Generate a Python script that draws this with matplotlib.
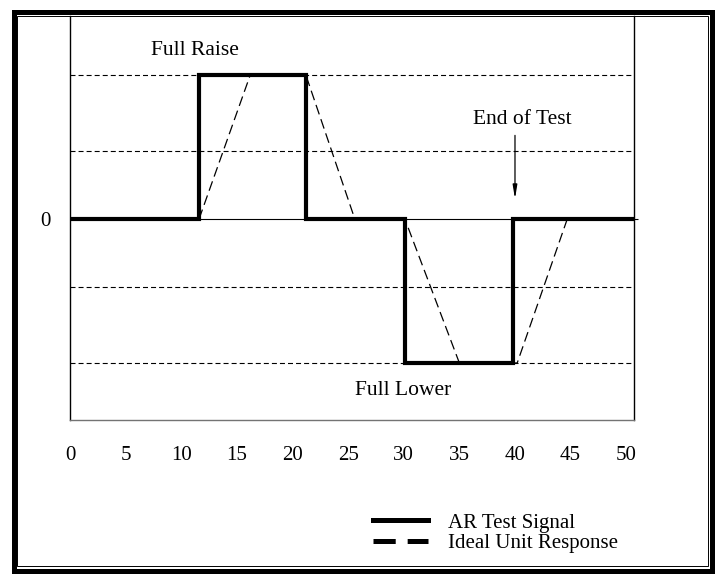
import matplotlib
matplotlib.use("Agg")
import matplotlib.pyplot as plt
from matplotlib.lines import Line2D
from matplotlib.patches import Rectangle

plt.rcParams['font.family'] = ['Liberation Serif', 'DejaVu Serif']
plt.rcParams['lines.scale_dashes'] = False

# step test signal (time, level)
signal_t = [0, 11.6, 11.6, 21.2, 21.2, 30.1, 30.1, 39.8, 39.8, 50.5]
signal_v = [0, 0, 1, 1, 0, 0, -1, -1, 0, 0]

# ideal ramped unit response
resp_t = [11.6, 16.2, 21.2, 25.6, 30.1, 35.0, 40.2, 44.7]
resp_v = [0, 1, 1, 0, 0, -1, -1, 0]

grid_levels = [1, 0.47, -0.47, -1]
xtick_vals = [0, 5, 10, 15, 20, 25, 30, 35, 40, 45, 50]

fig = plt.figure(figsize=(7.28, 5.75), dpi=100)
ax = fig.add_axes([0.0962, 0.2696, 0.7747, 0.7026])

for g in grid_levels:
    ax.axhline(g, color='black', lw=0.8, ls=(0, (3.6, 2.2)))
ax.axhline(0, color='black', lw=0.8)

ax.plot(resp_t, resp_v, color='black', lw=0.9, ls=(0, (7.2, 3.6)))
ax.plot(signal_t, signal_v, color='black', lw=3.0, solid_joinstyle='miter')

ax.set_xlim(0, 50.7)
ax.set_ylim(-1.396, 1.41)

ax.set_xticks(xtick_vals)
ax.set_xticklabels([str(v) for v in xtick_vals])
ax.set_yticks([0])
ax.set_yticklabels(['0'])
ax.tick_params(axis='x', length=0, pad=19, labelsize=15)
ax.tick_params(axis='y', left=False, right=True, direction='out', length=3,
               pad=11, labelsize=15)

ax.spines['top'].set_visible(False)
ax.spines['left'].set_linewidth(1.0)
ax.spines['right'].set_linewidth(1.0)
ax.spines['bottom'].set_color('0.45')
ax.spines['bottom'].set_linewidth(1.0)

ax.text(11.2, 1.167, 'Full Raise', ha='center', va='center', fontsize=15.5)
ax.text(29.9, -1.19, 'Full Lower', ha='center', va='center', fontsize=15.5)
ax.text(40.7, 0.69, 'End of Test', ha='center', va='center', fontsize=15.5)
ax.annotate('', xy=(40.0, 0.12), xytext=(40.0, 0.6),
            arrowprops=dict(arrowstyle='-|>,head_length=0.8,head_width=0.13',
                            color='black', lw=0.9))

handles = [Line2D([], [], color='black', lw=3.6),
           Line2D([], [], color='black', lw=3.6, ls=(0, (16, 8.6)))]
fig.legend(handles, ['AR Test Signal', 'Ideal Unit Response'],
           loc='upper left', bbox_to_anchor=(373 / 728, 1 - 513 / 575),
           frameon=False, fontsize=15, handlelength=2.64, handletextpad=0.95,
           labelspacing=0.05, borderpad=0, borderaxespad=0)

# double outer frame
fig.patches.append(Rectangle((0.0199, 0.0078), 0.9588, 0.9705, fill=False,
                             lw=3.6, ec='black', transform=fig.transFigure))
fig.patches.append(Rectangle((0.0234, 0.0157), 0.9497, 0.9565, fill=False,
                             lw=0.7, ec='black', transform=fig.transFigure))

fig.savefig('out.png', dpi=100)
plt.close(fig)
